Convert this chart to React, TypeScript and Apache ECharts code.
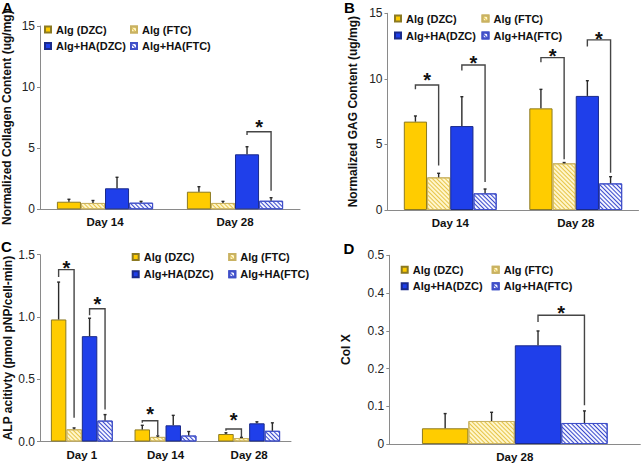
import React, { useEffect, useRef } from "react";
import * as echarts from "echarts";

// ---------- data ----------
const groupNames = ["Alg (DZC)", "Alg (FTC)", "Alg+HA(DZC)", "Alg+HA(FTC)"];

// Panel A: collagen
const collagenDays = ["Day 14", "Day 28"];
const collagenMean = [
  [0.62, 1.44],
  [0.52, 0.52],
  [1.72, 4.5],
  [0.54, 0.7],
];
const collagenErr = [
  [0.2, 0.41],
  [0.2, 0.13],
  [0.9, 0.62],
  [0.11, 0.25],
];
// [category, fromGroup, toGroup, top, leftEnd, rightEnd, star]
const collagenSig = [[1, 2, 3, 6.35, 6.08, 1.52, 7.14]];

// Panel B: GAG
const gagDays = ["Day 14", "Day 28"];
const gagMean = [
  [6.74, 7.75],
  [2.49, 3.56],
  [6.4, 8.7],
  [1.27, 2.03],
];
const gagErr = [
  [0.43, 1.45],
  [0.31, 0.06],
  [2.24, 1.16],
  [0.33, 0.51],
];
const gagSig = [
  [0, 0, 1, 9.53, 9.2, 3.4, 10.24],
  [0, 2, 3, 11.06, 10.63, 2.14, 11.52],
  [1, 0, 1, 11.62, 11.27, 3.87, 12.07],
  [1, 2, 3, 12.97, 12.46, 2.85, 13.4],
];

// Panel C: ALP
const alpDays = ["Day 1", "Day 14", "Day 28"];
const alpMean = [
  [0.98, 0.097, 0.06],
  [0.098, 0.037, 0.028],
  [0.846, 0.13, 0.146],
  [0.168, 0.048, 0.086],
];
const alpErr = [
  [0.3, 0.033, 0.01],
  [0.011, 0.008, 0.005],
  [0.144, 0.08, 0.012],
  [0.048, 0.032, 0.064],
];
const alpSig = [
  [0, 0, 1, 1.38, 1.32, 0.19, 1.428],
  [0, 2, 3, 1.066, 1.013, 0.257, 1.138],
  [1, 0, 1, 0.167, 0.15, 0.053, 0.26],
  [2, 0, 1, 0.1, 0.086, 0.035, 0.205],
];

// Panel D: Col X
const colXDays = ["Day 28"];
const colXMean = [[0.0416], [0.061], [0.2615], [0.0557]];
const colXErr = [[0.039], [0.023], [0.038], [0.032]];
const colXSig = [[0, 2, 3, 0.341, 0.323, 0.103, 0.36]];

const yNames = [
  "Normalized Collagen Content (ug/mg)",
  "Normalized GAG Content (ug/mg)",
  "ALP acitivty (pmol pNP/cell-min)",
  "Col X",
];
const yMax = [15, 15, 1.5, 0.5];
const yInterval = [5, 5, 0.5, 0.1];
const panelLetters = ["A", "B", "C", "D"];

// ---------- styling / layout ----------
const FONT = "Liberation Sans, Arial, Helvetica, sans-serif";
const BAR_FRAC = 0.185;

const hatch = (color: string) => ({
  symbol: "rect",
  symbolSize: 1,
  color,
  dashArrayX: [1, 0],
  dashArrayY: [1, 2],
  rotation: Math.PI / 4,
});

const groupStyles: any[] = [
  { color: "#FFCC00", borderColor: "#8C7A22", borderWidth: 1 },
  {
    color: "#FFF6CC",
    borderColor: "#C9B262",
    borderWidth: 1,
    decal: hatch("#E6C448"),
  },
  { color: "#1F3FEA", borderColor: "#1A2A8A", borderWidth: 1 },
  {
    color: "#F4F5FF",
    borderColor: "#3F4FC8",
    borderWidth: 1,
    decal: hatch("#3848CC"),
  },
];

const grids = [
  { left: 40, top: 26, width: 260, height: 183.3 },
  { left: 387.5, top: 13.3, width: 251, height: 196.7 },
  { left: 40, top: 254.7, width: 251, height: 186.8 },
  { left: 389.3, top: 255.3, width: 251, height: 188.7 },
];
const nameGaps = [27, 29, 25, 37.5];
const legendPos = [
  { c1: 44, c2: 130, top: 23, gap: 3.4 },
  { c1: 394, c2: 481.5, top: 12, gap: 4 },
  { c1: 131.7, c2: 228.3, top: 250.5, gap: 4.3 },
  { c1: 400.7, c2: 491.7, top: 263.2, gap: 3.6 },
];
const letterPos = [
  { left: 2, top: 0 },
  { left: 344, top: 0 },
  { left: 1, top: 239 },
  { left: 343.5, top: 241 },
];

const panelCats = [collagenDays, gagDays, alpDays, colXDays];
const panelMeans = [collagenMean, gagMean, alpMean, colXMean];
const panelErrs = [collagenErr, gagErr, alpErr, colXErr];
const panelSigs = [collagenSig, gagSig, alpSig, colXSig];

function buildOption() {
  const series: any[] = [];
  const xAxis: any[] = [];
  const yAxis: any[] = [];
  const legend: any[] = [];
  const graphic: any[] = [];

  for (let p = 0; p < 4; p++) {
    xAxis.push({
      type: "category",
      gridIndex: p,
      data: panelCats[p],
      boundaryGap: true,
      axisLine: { lineStyle: { color: "#8a8a8a", width: 1 } },
      axisTick: { length: 4, lineStyle: { color: "#8a8a8a" } },
      axisLabel: {
        fontFamily: FONT,
        fontWeight: "bold",
        fontSize: 11.5,
        color: "#111",
        margin: 7,
      },
    });
    yAxis.push({
      type: "value",
      gridIndex: p,
      min: 0,
      max: yMax[p],
      interval: yInterval[p],
      splitLine: { show: false },
      axisLine: { show: true, lineStyle: { color: "#8a8a8a", width: 1 } },
      axisTick: { show: true, length: 3, lineStyle: { color: "#8a8a8a" } },
      axisLabel: {
        fontFamily: FONT,
        fontSize: 12,
        color: "#222",
        margin: 5,
        formatter: (v: number) =>
          p === 2 ? v.toFixed(1) : p === 3 ? (v === 0 ? "0" : v.toFixed(1)) : String(v),
      },
      name: yNames[p],
      nameLocation: "middle",
      nameRotate: 90,
      nameGap: nameGaps[p],
      nameTextStyle: {
        fontFamily: FONT,
        fontWeight: "bold",
        fontSize: 12,
        color: "#111",
      },
    });

    for (let g = 0; g < 4; g++) {
      series.push({
        type: "bar",
        name: groupNames[g],
        xAxisIndex: p,
        yAxisIndex: p,
        data: panelMeans[p][g],
        barWidth: BAR_FRAC * 100 + "%",
        barGap: "0%",
        itemStyle: groupStyles[g],
        emphasis: { disabled: true },
        z: 2,
      });
    }

    const errData: number[][] = [];
    for (let g = 0; g < 4; g++) {
      panelMeans[p][g].forEach((m, c) => {
        errData.push([c, g, m, panelErrs[p][g][c]]);
      });
    }
    series.push({
      type: "custom",
      xAxisIndex: p,
      yAxisIndex: p,
      data: errData,
      encode: { x: 0, y: 2 },
      silent: true,
      z: 3,
      renderItem: (params: any, api: any) => {
        const c = api.value(0);
        const g = api.value(1);
        const m = api.value(2);
        const e = api.value(3);
        const bw = api.size([1, 0])[0] * BAR_FRAC;
        const p0 = api.coord([c, m]);
        const p1 = api.coord([c, m + e]);
        const x = p0[0] + (g - 1.5) * bw;
        const st = { stroke: "#2a2a2a", lineWidth: 1.4 };
        return {
          type: "group",
          children: [
            { type: "line", shape: { x1: x, y1: p0[1], x2: x, y2: p1[1] }, style: st },
            { type: "line", shape: { x1: x - 1.5, y1: p1[1], x2: x + 1.5, y2: p1[1] }, style: st },
          ],
        };
      },
    });

    series.push({
      type: "custom",
      xAxisIndex: p,
      yAxisIndex: p,
      data: panelSigs[p],
      encode: { x: 0, y: 3 },
      silent: true,
      z: 4,
      renderItem: (params: any, api: any) => {
        const c = api.value(0);
        const from = api.value(1);
        const to = api.value(2);
        const bw = api.size([1, 0])[0] * BAR_FRAC;
        const top = api.coord([c, api.value(3)]);
        const yL = api.coord([c, api.value(4)])[1];
        const yR = api.coord([c, api.value(5)])[1];
        const yS = api.coord([c, api.value(6)])[1];
        const xL = top[0] + (from - 1.5) * bw;
        const xR = top[0] + (to - 1.5) * bw;
        return {
          type: "group",
          children: [
            {
              type: "polyline",
              shape: { points: [[xL, yL], [xL, top[1]], [xR, top[1]], [xR, yR]] },
              style: { stroke: "#454545", fill: null, lineWidth: 1.4 },
            },
            {
              type: "text",
              x: (xL + xR) / 2,
              y: yS + 4.5,
              style: {
                text: "*",
                fontFamily: FONT,
                fontWeight: "bold",
                fontSize: 20,
                fill: "#111",
                textAlign: "center",
                textVerticalAlign: "middle",
              },
            },
          ],
        };
      },
    });

    const lp = legendPos[p];
    const legendCommon = {
      orient: "vertical",
      top: lp.top,
      padding: 0,
      itemGap: lp.gap,
      itemWidth: 6,
      itemHeight: 6,
      icon: "rect",
      selectedMode: false,
      textStyle: {
        fontFamily: FONT,
        fontWeight: "bold",
        fontSize: 11,
        color: "#111",
        lineHeight: 13,
      },
    };
    legend.push({ ...legendCommon, left: lp.c1, data: [groupNames[0], groupNames[2]] });
    legend.push({ ...legendCommon, left: lp.c2, data: [groupNames[1], groupNames[3]] });

    graphic.push({
      type: "text",
      left: letterPos[p].left,
      top: letterPos[p].top,
      style: {
        text: panelLetters[p],
        fontFamily: FONT,
        fontWeight: "bold",
        fontSize: 15,
        fill: "#000",
      },
    });
  }

  return {
    animation: false,
    backgroundColor: "#ffffff",
    grid: grids,
    xAxis,
    yAxis,
    legend,
    graphic,
    series,
  };
}

export default function App() {
  const ref = useRef<HTMLDivElement>(null);
  useEffect(() => {
    if (!ref.current) return;
    const chart = echarts.init(ref.current, undefined, { renderer: "svg" });
    chart.setOption(buildOption() as any);
    return () => chart.dispose();
  }, []);
  return (
    <div
      ref={ref}
      style={{ position: "fixed", left: 0, top: 0, width: 642, height: 464, background: "#fff" }}
    />
  );
}
